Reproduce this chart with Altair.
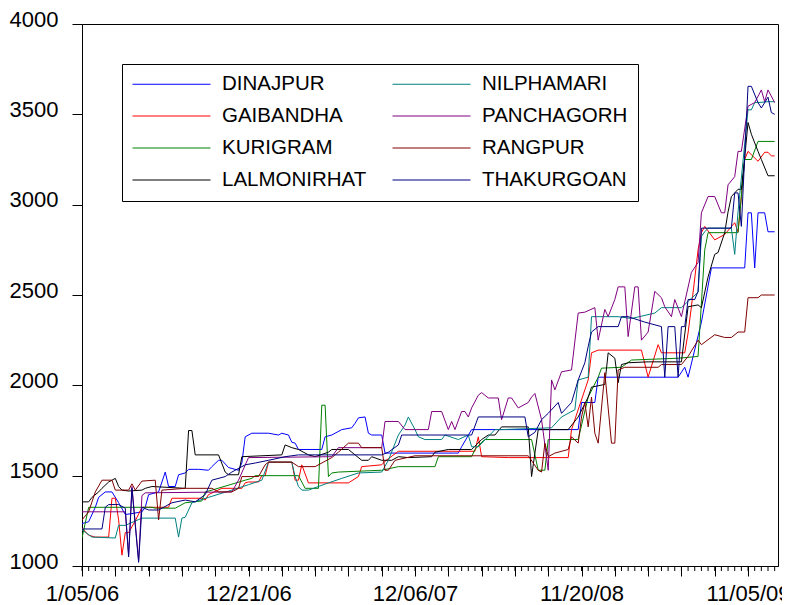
import altair as alt
import pandas as pd

SERIES = ["DINAJPUR", "GAIBANDHA", "KURIGRAM", "LALMONIRHAT",
          "NILPHAMARI", "PANCHAGORH", "RANGPUR", "THAKURGOAN"]
COLORS = ["#0000FF", "#FF0000", "#008000", "#000000",
          "#008080", "#800080", "#800000", "#000080"]
TICK_OBS = [0, 50, 100, 150, 200]
TICK_LABELS = ["1/05/06", "12/21/06", "12/06/07", "11/20/08", "11/05/09"]
Y_TICKS = [1000, 1500, 2000, 2500, 3000, 3500, 4000]
N_OBS = 209

DINAJPUR_W = [0, 2, 4, 5, 7, 9, 11, 13, 15, 18, 19, 20, 23, 25, 26, 28, 29, 31, 32, 35, 38, 39, 41, 42, 44, 47, 48, 49, 51, 56, 59, 60, 62, 63, 64, 65, 72, 73, 75, 78, 81, 82, 83, 85, 86, 87, 90, 91, 113, 114, 117, 149, 150, 154, 155, 179, 181, 182, 186, 189, 199, 200, 201, 202, 203, 205, 206, 208]
DINAJPUR_V = [1235, 1245, 1325, 1380, 1410, 1410, 1350, 1285, 1290, 1300, 1325, 1395, 1410, 1520, 1440, 1440, 1505, 1515, 1535, 1535, 1530, 1550, 1585, 1585, 1545, 1530, 1570, 1715, 1735, 1735, 1725, 1735, 1725, 1685, 1680, 1645, 1645, 1715, 1725, 1755, 1765, 1790, 1820, 1825, 1735, 1725, 1725, 1625, 1625, 1660, 1755, 1755, 1905, 1905, 2045, 2045, 2100, 2045, 2350, 2650, 2650, 2955, 2955, 2650, 2955, 2955, 2850, 2850]

GAIBANDHA_W = [0, 2, 4, 8, 9, 10, 11, 12, 13, 14, 16, 18, 26, 27, 36, 37, 38, 42, 48, 49, 50, 53, 54, 55, 56, 63, 64, 65, 66, 68, 80, 83, 84, 90, 91, 95, 118, 119, 120, 128, 146, 147, 152, 153, 155, 168, 170, 173, 174, 181, 182, 183, 185, 186, 187, 190, 193, 196, 197, 198, 199, 200, 203, 205, 206, 207, 208]
GAIBANDHA_V = [1210, 1170, 1160, 1160, 1375, 1375, 1255, 1060, 1185, 1185, 1250, 1325, 1325, 1375, 1375, 1365, 1395, 1430, 1430, 1460, 1465, 1465, 1500, 1500, 1575, 1575, 1475, 1475, 1560, 1460, 1460, 1495, 1550, 1560, 1580, 1635, 1635, 1715, 1605, 1600, 1600, 1755, 2030, 2180, 2195, 2195, 2045, 2225, 2180, 2180, 2290, 2435, 2750, 2845, 2880, 2805, 2835, 2900, 2850, 3045, 3250, 3295, 3240, 3290, 3290, 3270, 3270]

KURIGRAM_W = [0, 2, 21, 22, 28, 31, 36, 37, 39, 49, 51, 52, 65, 67, 71, 72, 73, 74, 75, 77, 90, 95, 106, 107, 117, 118, 120, 121, 135, 137, 139, 140, 149, 152, 155, 156, 162, 165, 179, 185, 187, 188, 197, 199, 201, 203, 208]
KURIGRAM_V = [1155, 1325, 1325, 1320, 1320, 1350, 1360, 1410, 1420, 1475, 1485, 1500, 1500, 1430, 1430, 1890, 1890, 1495, 1515, 1520, 1530, 1550, 1550, 1605, 1605, 1645, 1685, 1700, 1700, 1530, 1530, 1700, 1700, 1935, 2045, 2095, 2100, 2140, 2150, 2160, 2750, 2845, 2845, 3250, 3250, 3350, 3350]

LALMONIRHAT_W = [0, 2, 3, 5, 6, 8, 10, 11, 12, 14, 18, 19, 21, 31, 32, 33, 34, 41, 43, 44, 47, 48, 60, 61, 63, 65, 68, 70, 74, 75, 80, 82, 84, 86, 87, 90, 93, 95, 98, 105, 106, 110, 117, 120, 122, 124, 126, 134, 135, 137, 146, 149, 152, 153, 157, 158, 160, 161, 162, 164, 170, 180, 182, 185, 186, 188, 190, 191, 193, 194, 195, 197, 198, 199, 200, 201, 203, 204, 206, 208]
LALMONIRHAT_V = [1355, 1355, 1380, 1410, 1430, 1465, 1485, 1440, 1420, 1415, 1420, 1430, 1440, 1430, 1750, 1750, 1615, 1615, 1520, 1505, 1505, 1605, 1615, 1670, 1655, 1645, 1615, 1605, 1630, 1645, 1645, 1615, 1585, 1585, 1605, 1585, 1585, 1605, 1600, 1605, 1630, 1645, 1645, 1700, 1725, 1725, 1770, 1770, 1495, 1755, 1755, 1825, 1935, 1990, 2005, 2180, 2150, 2015, 2115, 2125, 2130, 2130, 2435, 2445, 2430, 2600, 2725, 2735, 2845, 2960, 3045, 3085, 3085, 3260, 3455, 3390, 3295, 3250, 3160, 3160]

NILPHAMARI_W = [0, 3, 10, 11, 13, 18, 28, 29, 30, 31, 33, 38, 45, 50, 54, 56, 63, 64, 65, 66, 68, 74, 78, 83, 90, 92, 95, 97, 98, 100, 101, 103, 108, 109, 113, 116, 117, 119, 124, 126, 141, 144, 148, 149, 152, 153, 161, 165, 172, 174, 180, 182, 185, 186, 187, 188, 195, 196, 197, 200, 201, 202, 203, 206, 208]
NILPHAMARI_V = [1200, 1160, 1155, 1225, 1225, 1265, 1265, 1160, 1265, 1270, 1350, 1380, 1420, 1450, 1475, 1575, 1575, 1495, 1440, 1420, 1420, 1460, 1485, 1515, 1520, 1585, 1725, 1780, 1825, 1755, 1715, 1700, 1700, 1725, 1700, 1725, 1660, 1660, 1755, 1755, 1765, 1825, 1865, 2030, 2045, 2380, 2380, 2370, 2400, 2430, 2430, 2465, 2515, 2825, 2850, 2870, 2870, 2725, 2960, 3525, 3525, 3565, 3565, 3570, 3570]

PANCHAGORH_W = [0, 13, 14, 15, 17, 18, 19, 45, 47, 50, 75, 77, 90, 91, 95, 97, 104, 105, 108, 110, 111, 112, 114, 115, 116, 117, 119, 120, 122, 125, 126, 128, 129, 131, 134, 135, 136, 138, 140, 141, 142, 144, 147, 149, 151, 154, 155, 157, 158, 160, 161, 163, 164, 166, 167, 168, 170, 172, 174, 175, 177, 178, 180, 183, 185, 186, 188, 190, 192, 193, 194, 196, 197, 198, 200, 202, 204, 205, 206, 208]
PANCHAGORH_V = [1300, 1300, 1060, 1440, 1030, 1390, 1405, 1410, 1475, 1600, 1605, 1655, 1655, 1800, 1800, 1755, 1755, 1855, 1855, 1755, 1800, 1755, 1855, 1855, 1825, 1875, 1945, 1960, 1930, 1930, 1810, 1930, 1930, 1875, 1905, 1935, 1955, 1810, 1530, 2030, 1975, 2075, 2085, 2400, 2405, 2430, 2250, 2420, 2380, 2475, 2545, 2545, 2270, 2545, 2545, 2250, 2295, 2520, 2485, 2435, 2380, 2475, 2380, 2625, 2680, 2955, 3045, 3045, 2955, 2955, 3110, 3155, 3295, 3295, 3545, 3565, 3635, 3570, 3635, 3565]

RANGPUR_W = [0, 2, 4, 6, 9, 10, 14, 15, 16, 18, 22, 23, 24, 31, 39, 41, 45, 47, 48, 53, 55, 56, 63, 65, 70, 75, 77, 80, 83, 84, 90, 91, 92, 94, 100, 134, 137, 138, 139, 140, 142, 146, 147, 149, 150, 151, 152, 153, 154, 155, 157, 159, 160, 161, 163, 173, 174, 180, 182, 185, 186, 190, 193, 195, 197, 199, 200, 203, 204, 208]
RANGPUR_V = [1255, 1300, 1410, 1475, 1475, 1420, 1420, 1455, 1420, 1470, 1475, 1255, 1420, 1430, 1430, 1410, 1410, 1430, 1495, 1495, 1560, 1575, 1575, 1550, 1550, 1600, 1630, 1680, 1680, 1655, 1655, 1530, 1530, 1585, 1610, 1610, 1530, 1520, 1680, 1605, 1625, 1645, 1715, 1680, 1825, 1905, 1770, 1935, 1735, 1680, 2070, 1680, 1680, 2085, 2100, 2100, 2115, 2115, 2160, 2250, 2225, 2280, 2265, 2265, 2295, 2295, 2485, 2485, 2500, 2500]

THAKURGOAN_W = [0, 6, 7, 8, 11, 13, 14, 15, 17, 18, 20, 23, 27, 31, 34, 37, 39, 43, 45, 49, 52, 56, 61, 65, 90, 92, 95, 96, 117, 119, 133, 134, 136, 138, 140, 143, 144, 147, 149, 151, 152, 153, 155, 161, 162, 164, 169, 174, 175, 176, 178, 179, 180, 181, 182, 184, 185, 186, 195, 196, 197, 198, 200, 201, 203, 204, 206, 207, 208]
THAKURGOAN_V = [1205, 1205, 1325, 1340, 1340, 1320, 1050, 1430, 1020, 1325, 1310, 1310, 1350, 1365, 1355, 1395, 1475, 1495, 1520, 1560, 1570, 1585, 1605, 1615, 1615, 1630, 1670, 1725, 1725, 1825, 1825, 1715, 1740, 1810, 1845, 1905, 1845, 1905, 2030, 2125, 2215, 2295, 2325, 2325, 2380, 2380, 2350, 2325, 2045, 2325, 2325, 2045, 2325, 2325, 2475, 2475, 2520, 2870, 2870, 3065, 3065, 2880, 3655, 3655, 3565, 3535, 3595, 3510, 3500]

DATA = {
    "DINAJPUR": (DINAJPUR_W, DINAJPUR_V),
    "GAIBANDHA": (GAIBANDHA_W, GAIBANDHA_V),
    "KURIGRAM": (KURIGRAM_W, KURIGRAM_V),
    "LALMONIRHAT": (LALMONIRHAT_W, LALMONIRHAT_V),
    "NILPHAMARI": (NILPHAMARI_W, NILPHAMARI_V),
    "PANCHAGORH": (PANCHAGORH_W, PANCHAGORH_V),
    "RANGPUR": (RANGPUR_W, RANGPUR_V),
    "THAKURGOAN": (THAKURGOAN_W, THAKURGOAN_V),
}

rows = []
for s in SERIES:
    ws, vs = DATA[s]
    for i, (w, v) in enumerate(zip(ws, vs)):
        rows.append({"series": s, "obs": w, "value": v, "ord": i})
df = pd.DataFrame(rows)

minor = pd.DataFrame({"obs": list(range(0, N_OBS, 2))})

label_expr = ""
for o, lab in zip(TICK_OBS, TICK_LABELS):
    label_expr += f"datum.value == {o} ? '{lab}' : "
label_expr += "''"

FONT = "Liberation Sans"
W, H = 696, 542

x_enc = alt.X(
    "obs:Q",
    scale=alt.Scale(domain=[0, N_OBS], nice=False, zero=False),
    axis=alt.Axis(values=list(range(0, N_OBS, 10)), tickSize=10, labelExpr=label_expr,
                  labelFontSize=22, labelPadding=7, labelOverlap=False, grid=False,
                  title=None, labelFlush=False),
)

ticks = alt.Chart(minor).mark_rule(color="black", strokeWidth=1).encode(
    x=x_enc,
    y=alt.value(H),
    y2=alt.value(H + 5),
)

lines = alt.Chart(df).mark_line(strokeWidth=1, clip=True).encode(
    x=x_enc,
    y=alt.Y(
        "value:Q",
        scale=alt.Scale(domain=[1000, 4000], nice=False, zero=False),
        axis=alt.Axis(values=Y_TICKS, format="d", tickSize=10, labelPadding=14,
                      labelFontSize=22, labelOffset=-5, grid=False, title=None),
    ),
    color=alt.Color(
        "series:N",
        scale=alt.Scale(domain=SERIES, range=COLORS),
        legend=alt.Legend(
            title=None, orient="none", legendX=40, legendY=40, columns=2,
            symbolType="stroke", symbolSize=78 * 78, symbolStrokeWidth=1,
            clipHeight=20, labelFontSize=20.5, labelOffset=11, labelFont=FONT,
            labelColor="black", rowPadding=11, columnPadding=25, padding=10,
            strokeColor="black", fillColor="white",
        ),
    ),
    order="ord:Q",
)

chart = alt.layer(ticks, lines).properties(
    width=W, height=H,
    padding={"left": 74, "top": 16, "right": 4, "bottom": 45},
    autosize=alt.AutoSizeParams(type="none"),
    background="white",
).configure_view(
    stroke="black", strokeWidth=1
).configure_axis(
    domainColor="black", tickColor="black", labelColor="black",
    labelFont=FONT, domainWidth=1, tickWidth=1,
)

chart.save("out.html", embed_options={"renderer": "svg", "actions": False})
